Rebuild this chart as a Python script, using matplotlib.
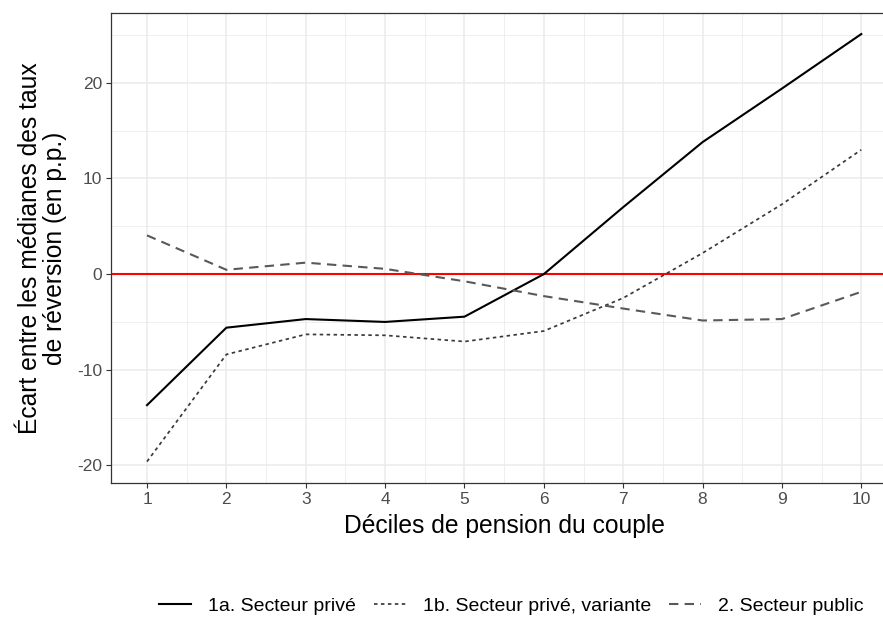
import matplotlib
matplotlib.use("Agg")
import matplotlib.pyplot as plt
from matplotlib.ticker import MultipleLocator

plt.rcParams['font.family'] = ['Liberation Sans', 'DejaVu Sans']
plt.rcParams['axes.unicode_minus'] = False

deciles = [1, 2, 3, 4, 5, 6, 7, 8, 9, 10]
prive = [-13.7, -5.6, -4.7, -5.0, -4.45, 0.0, 7.0, 13.8, 19.4, 25.1]
prive_variante = [-19.6, -8.4, -6.3, -6.4, -7.05, -5.95, -2.5, 2.2, 7.3, 13.0]
public = [4.05, 0.45, 1.2, 0.55, -0.75, -2.3, -3.6, -4.85, -4.7, -1.85]
labels = ["1a. Secteur privé", "1b. Secteur privé, variante", "2. Secteur public"]
xticks = deciles
yticks = [-20, -10, 0, 10, 20]

fig = plt.figure(figsize=(8.83, 6.17), dpi=100)
W, H = 883, 617
ax = fig.add_axes([111.3 / W, 1 - 483 / H, (897 - 111.3) / W, (483 - 13) / H])

ax.set_xlim(0.55, 10.45)
ax.set_ylim(-21.84, 27.3)
ax.set_xticks(xticks)
ax.set_yticks(yticks)
ax.xaxis.set_minor_locator(MultipleLocator(0.5))
ax.yaxis.set_minor_locator(MultipleLocator(5))
ax.grid(which='major', color='#EBEBEB', lw=1.1, zorder=0)
ax.grid(which='minor', color='#EBEBEB', lw=0.55, zorder=0)
ax.tick_params(which='minor', length=0)
ax.tick_params(which='major', length=3.5, width=0.8, color='#333333',
               labelsize=12.5, labelcolor='#4D4D4D', pad=3)
for s in ax.spines.values():
    s.set_color('#333333')
    s.set_linewidth(0.9)
ax.set_axisbelow(True)

ax.axhline(0, color='#FF0000', lw=1.5, zorder=2)
l1, = ax.plot(deciles, prive, color='black', lw=1.5, ls='-', zorder=3, label=labels[0])
l2, = ax.plot(deciles, prive_variante, color='#3a3a3a', lw=1.25, ls=(0, (2, 2)), zorder=3, label=labels[1])
l3, = ax.plot(deciles, public, color='#595959', lw=1.5, ls=(0, (4.5, 3)), zorder=3, label=labels[2])

ax.set_xlabel("Déciles de pension du couple", fontsize=17.7, color='black', labelpad=5)
ax.set_ylabel("Écart entre les médianes des taux\nde réversion (en p.p.)", fontsize=17.7,
              color='black', labelpad=7, linespacing=1.1)

fig.legend(handles=[l1, l2, l3], loc='center', bbox_to_anchor=(511 / W, 1 - 606 / H),
           ncol=3, frameon=False, fontsize=14, handlelength=1.65, columnspacing=0.93,
           handletextpad=0.87)

fig.savefig("out.png", dpi=100)
